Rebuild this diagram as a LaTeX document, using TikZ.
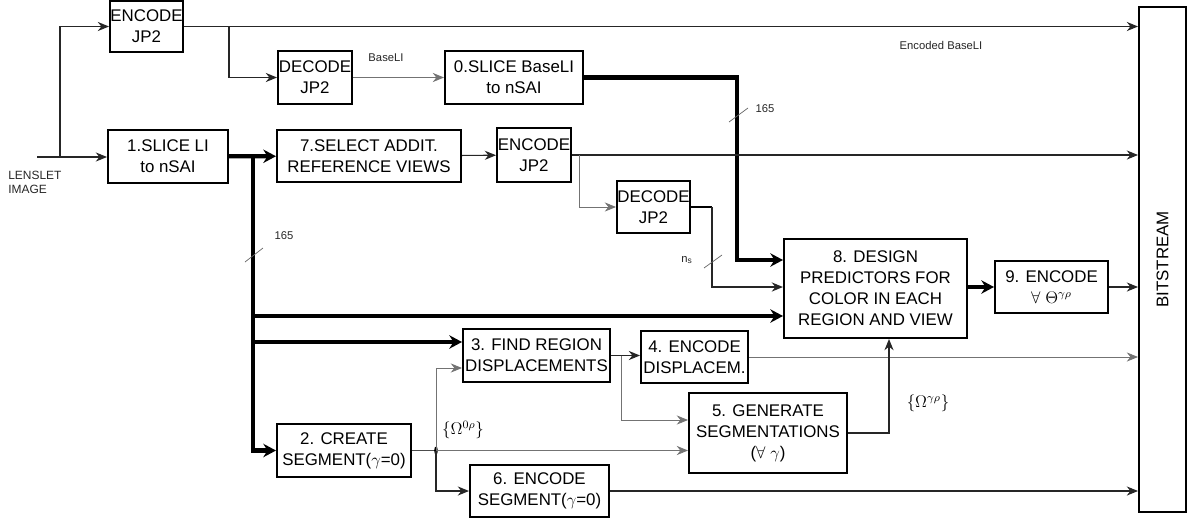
\documentclass[tikz,border=0pt]{standalone}
\usepackage{fontspec}
\setmainfont{Liberation Sans}
\usepackage{amsmath}
\usepackage{graphicx}
\usetikzlibrary{arrows.meta}

\begin{document}
\begin{tikzpicture}[
            x=0.025cm, y=-0.025cm,
            box/.style={
                draw,
                rectangle,
                line width=1.4pt,
                inner sep=0pt,
                align=center,
                font=\fontsize{12}{15}\selectfont
            },
            arrow/.style={
                -{Stealth[length=8pt,width=6.5pt]},
                line width=0.8pt,
                color=black!85
            },
            greyarrow/.style={
                arrow,
                line width=0.6pt,
                color=black!55
            },
            heavy/.style={
                line width=3pt
            },
            heavyarrow/.style={
                -{Stealth[length=9pt,width=9.5pt]},
                heavy
            },
            slash/.style={
                line width=0.5pt,
                color=black!60
            },
            note/.style={
                font=\fontsize{8}{10}\selectfont,
                color=black!85
            }
        ]
            \useasboundingbox (0,0) rectangle (1188,521);

            % blocks
            \node (enc1) [box, minimum width=1.825cm, minimum height=1.275cm] at (146.5,26.5) {ENCODE\\JP2};
            \node (dec1) [box, minimum width=1.85cm, minimum height=1.325cm] at (315,77.5) {DECODE\\JP2};
            \node (slice0) [box, minimum width=3.45cm, minimum height=1.325cm] at (514,77.5) {0.SLICE BaseLI\\to nSAI};
            \node (slice1) [box, minimum width=3cm, minimum height=1.325cm] at (168,156.5) {1.SLICE LI\\to nSAI};
            \node (select7) [box, minimum width=4.6cm, minimum height=1.3cm] at (369,156) {7.SELECT ADDIT.\\REFERENCE VIEWS};
            \node (enc2) [box, minimum width=1.85cm, minimum height=1.35cm] at (534,155) {ENCODE\\JP2};
            \node (dec2) [box, minimum width=1.825cm, minimum height=1.3cm] at (653.5,207) {DECODE\\JP2};
            \node (design8) [box, minimum width=4.575cm, minimum height=2.475cm] at (875.5,288.5) {8. DESIGN\\PREDICTORS FOR\\COLOR IN EACH\\REGION AND VIEW};
            \node (enc9) [box, minimum width=2.825cm, minimum height=1.3cm] at (1051.5,287) {9. ENCODE\\$\forall\ \Theta^{\gamma\rho}$};
            \node (bits) [box, minimum width=1.175cm, minimum height=12.625cm] at (1162.5,259.5) {\rotatebox{90}{BITSTREAM}};
            \node (find3) [box, minimum width=3.675cm, minimum height=1.325cm] at (536.5,355.5) {3. FIND REGION\\DISPLACEMENTS};
            \node (enc4) [box, minimum width=2.675cm, minimum height=1.3cm] at (694.5,357) {4. ENCODE\\DISPLACEM.};
            \node (gen5) [box, minimum width=3.95cm, minimum height=2cm] at (768,433) {5. GENERATE\\SEGMENTATIONS\\($\forall\ \gamma$)};
            \node (create2) [box, minimum width=3.35cm, minimum height=1.325cm] at (344,450.5) {2. CREATE\\SEGMENT($\gamma$=0)};
            \node (enc6) [box, minimum width=3.475cm, minimum height=1.3cm] at (539.5,491) {6. ENCODE\\SEGMENT($\gamma$=0)};

            % bends and branch points
            \coordinate (lensin) at (37,157);
            \coordinate (lensbr) at (60,157);
            \coordinate (encbr) at (229,26.5);
            \coordinate (k0) at (737,260);
            \coordinate (sp) at (253,157);
            \coordinate (sp8) at (253,316);
            \coordinate (sp3) at (253,342);
            \coordinate (enc2br) at (579,155);
            \coordinate (k2) at (712,287);
            \coordinate (fbr) at (621,355.5);
            \coordinate (g1) at (621,420);
            \coordinate (jn) at (436,450.5);
            \coordinate (f3in) at (436,368);
            \coordinate (k5) at (889,433);

            % labels
            \node (lenslet) [note, anchor=north west, align=left, inner sep=0pt, font=\fontsize{8.5}{10}\selectfont] at (8,171) {LENSLET\\IMAGE};
            \node (baseli) [note] at (386,58) {BaseLI};
            \node (encbase) [note] at (941,45) {Encoded BaseLI};
            \node (n165a) [note] at (765,109) {165};
            \node (n165b) [note] at (284,236) {165};
            \node (ns) [note] at (687,260) {n\textsubscript{s}};
            \node (om0) [font=\fontsize{11.5}{13}\selectfont] at (463,430) {$\{\Omega^{0\rho}\}$};
            \node (omg) [font=\fontsize{11.5}{13}\selectfont] at (928,403) {$\{\Omega^{\gamma\rho}\}$};

            % connectors
            \draw[arrow] (lensin) -- (lensin -| slice1.west);
            \draw[arrow] (lensbr) |- (enc1.west);
            \draw[arrow] (enc1.east) -- (enc1.east -| bits.west);
            \draw[arrow] (encbr) |- (dec1.west);
            \draw[greyarrow] (dec1) -- (slice0);
            \draw[heavyarrow] (slice0.east) -| (k0) -- (k0 -| design8.west);

            \draw[heavyarrow] (slice1) -- (select7);
            \draw[heavyarrow] (sp) |- (create2.west);
            \draw[heavyarrow] (sp8) -- (sp8 -| design8.west);
            \draw[heavyarrow] (sp3) -- (sp3 -| find3.west);

            \draw[arrow] (select7) -- (enc2);
            \draw[arrow] (enc2.east) -- (enc2.east -| bits.west);
            \draw[greyarrow] (enc2br) |- (dec2.west);
            \draw[heavy, line width=2pt] (dec2.east) -- (dec2.east -| k2);
            \draw[arrow, line width=1.2pt] (dec2.east -| k2) -- (k2) -- (k2 -| design8.west);

            \draw[heavyarrow] (design8.east |- enc9.west) -- (enc9.west);
            \draw[arrow] (enc9.east) -- (enc9.east -| bits.west);

            \draw[arrow] (find3.east) -- (find3.east -| enc4.west);
            \draw[greyarrow] (fbr) -- (g1) -- (g1 -| gen5.west);
            \draw[greyarrow] (enc4.east) -- (enc4.east -| bits.west);

            \draw[line width=0.6pt, color=black!70] (create2.east) -- (jn);
            \fill (jn) ellipse [x radius=1.3pt, y radius=2.8pt];
            \draw[greyarrow] (jn) -- (f3in) -- (f3in -| find3.west);
            \draw[greyarrow] (jn) -- (jn -| gen5.west);
            \draw[arrow] (jn) |- (enc6.west);

            \draw[arrow] (gen5.east) -- (k5) -- (k5 |- design8.south);
            \draw[arrow] (enc6.east) -- (enc6.east -| bits.west);

            % bus width marks
            \draw[slash] (729,122) -- (748,108);
            \draw[slash] (245,262) -- (263,248);
            \draw[slash] (704,268) -- (722,255);
        \end{tikzpicture}
\end{document}
